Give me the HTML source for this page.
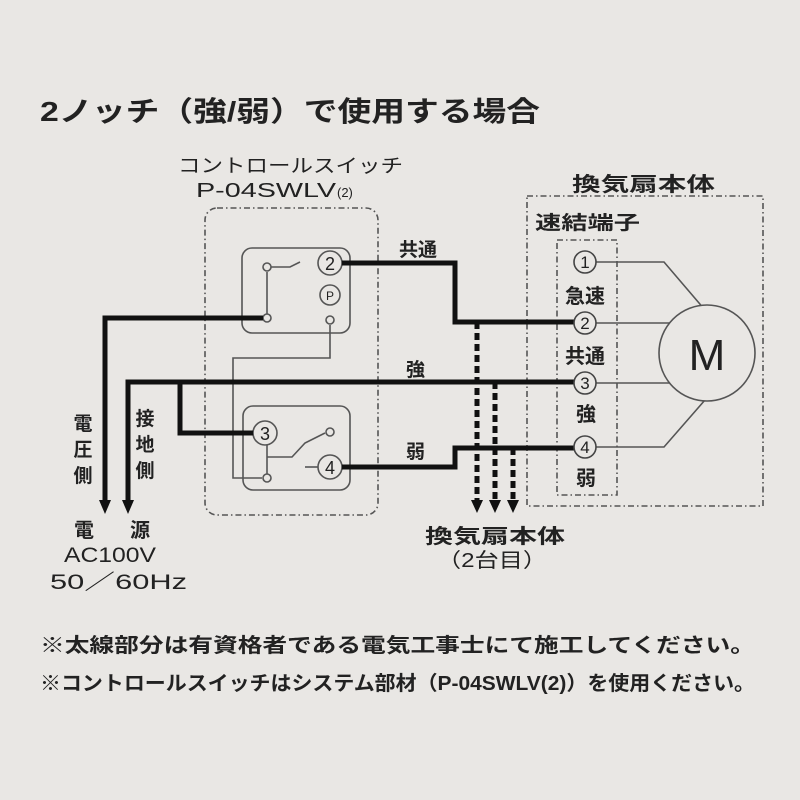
<!DOCTYPE html>
<html><head><meta charset="utf-8"><style>
body{margin:0;background:#e9e7e4;}
svg{display:block;}
text{font-family:"Liberation Sans","Noto Sans CJK JP",sans-serif;fill:#222;}
</style></head><body>
<svg width="800" height="800" viewBox="0 0 800 800" xmlns="http://www.w3.org/2000/svg">
<rect width="800" height="800" fill="#e9e7e4"/>
<text x="40" y="121" font-size="28" font-weight="bold" textLength="500" lengthAdjust="spacingAndGlyphs">2ノッチ（強/弱）で使用する場合</text>
<text x="178" y="172" font-size="19" textLength="225" lengthAdjust="spacingAndGlyphs">コントロールスイッチ</text>
<text x="196" y="197" font-size="20" textLength="140" lengthAdjust="spacingAndGlyphs">P-04SWLV</text>
<text x="337" y="197" font-size="13">(2)</text>

<g fill="none" stroke="#555" stroke-width="1.6" stroke-dasharray="6,3,1.5,3">
<rect x="205" y="208" width="173" height="307" rx="12"/>
<rect x="527" y="196" width="236" height="310"/>
<rect x="557" y="240" width="60" height="255"/>
</g>
<text x="572" y="191" font-size="20" font-weight="bold" textLength="143" lengthAdjust="spacingAndGlyphs">換気扇本体</text>
<text x="535" y="229" font-size="19" font-weight="bold" textLength="105" lengthAdjust="spacingAndGlyphs">速結端子</text>

<g fill="none" stroke="#555" stroke-width="1.6">
<rect x="242" y="248" width="108" height="85" rx="10"/>
<rect x="243" y="406" width="107" height="84" rx="10"/>
<polyline points="330,325 330,358 233,358 233,478 262,478"/>
<line x1="267" y1="272" x2="267" y2="314"/>
<polyline points="271,267 290,267 300,262"/>
<polyline points="267,445 267,474"/>
<polyline points="267,457 292,457 305,443 325,433"/>
<line x1="305" y1="467" x2="318" y2="467"/>
</g>
<g fill="#e9e7e4" stroke="#555" stroke-width="1.6">
<circle cx="330" cy="263" r="12"/>
<circle cx="330" cy="295" r="10"/>
<circle cx="330" cy="320" r="4"/>
<circle cx="267" cy="267" r="4"/>
<circle cx="267" cy="318" r="4"/>
<circle cx="265" cy="433" r="12"/>
<circle cx="330" cy="467" r="12"/>
<circle cx="330" cy="432" r="4"/>
<circle cx="267" cy="478" r="4"/>
</g>
<g font-size="18" text-anchor="middle">
<text x="330" y="270">2</text>
<text x="330" y="300" font-size="12">P</text>
<text x="265" y="440">3</text>
<text x="330" y="474">4</text>
</g>

<g fill="none" stroke="#111" stroke-width="5">
<polyline points="105,505 105,318 263,318"/>
<polyline points="128,505 128,382 575,382"/>
<polyline points="180,382 180,433 253,433"/>
<polyline points="342,263 455,263 455,322 575,322"/>
<polyline points="342,467 455,467 455,448 575,448"/>
</g>
<g fill="#111">
<polygon points="99,500 111,500 105,514"/>
<polygon points="122,500 134,500 128,514"/>
</g>
<g fill="none" stroke="#111" stroke-width="5" stroke-dasharray="7,4">
<line x1="477" y1="322" x2="477" y2="502"/>
<line x1="495" y1="382" x2="495" y2="502"/>
<line x1="513" y1="448" x2="513" y2="502"/>
</g>
<g fill="#111">
<polygon points="471,500 483,500 477,513"/>
<polygon points="489,500 501,500 495,513"/>
<polygon points="507,500 519,500 513,513"/>
</g>

<text x="399" y="256" font-size="19" font-weight="bold">共通</text>
<text x="406" y="376" font-size="19" font-weight="bold">強</text>
<text x="406" y="458" font-size="19" font-weight="bold">弱</text>

<g fill="none" stroke="#555" stroke-width="1.6">
<polyline points="595,262 664,262 705,310"/>
<line x1="595" y1="323" x2="672" y2="323"/>
<line x1="595" y1="383" x2="672" y2="383"/>
<polyline points="595,447 664,447 705,400"/>
</g>
<circle cx="707" cy="353" r="48" fill="#e9e7e4" stroke="#555" stroke-width="1.6"/>
<text x="707" y="370" font-size="44" text-anchor="middle">M</text>
<g fill="#e9e7e4" stroke="#444" stroke-width="1.6">
<circle cx="585" cy="262" r="11"/>
<circle cx="585" cy="323" r="11"/>
<circle cx="585" cy="383" r="11"/>
<circle cx="585" cy="447" r="11"/>
</g>
<g font-size="17" text-anchor="middle">
<text x="585" y="268">1</text><text x="585" y="329">2</text><text x="585" y="389">3</text><text x="585" y="453">4</text>
</g>
<g font-size="20" font-weight="bold">
<text x="565" y="303">急速</text>
<text x="565" y="363">共通</text>
<text x="576" y="421">強</text>
<text x="576" y="485">弱</text>
</g>

<g font-size="19" font-weight="bold" text-anchor="middle">
<text x="83" y="430">電</text><text x="83" y="456">圧</text><text x="83" y="482">側</text>
<text x="145" y="425">接</text><text x="145" y="451">地</text><text x="145" y="477">側</text>
</g>
<text x="74" y="537" font-size="20" font-weight="bold">電</text>
<text x="130" y="537" font-size="20" font-weight="bold">源</text>
<text x="64" y="562" font-size="21" textLength="92" lengthAdjust="spacingAndGlyphs">AC100V</text>
<text x="50" y="589" font-size="21" textLength="137" lengthAdjust="spacingAndGlyphs">50／60Hz</text>

<text x="425" y="543" font-size="20" font-weight="bold" textLength="140" lengthAdjust="spacingAndGlyphs">換気扇本体</text>
<text x="437" y="567" font-size="20" textLength="110" lengthAdjust="spacingAndGlyphs">（2台目）</text>

<text x="40" y="652" font-size="20" font-weight="bold" textLength="715" lengthAdjust="spacingAndGlyphs">※太線部分は有資格者である電気工事士にて施工してください。</text>
<text x="40" y="690" font-size="20" font-weight="bold" textLength="715" lengthAdjust="spacingAndGlyphs">※コントロールスイッチはシステム部材（P-04SWLV(2)）を使用ください。</text>
</svg>
</body></html>
